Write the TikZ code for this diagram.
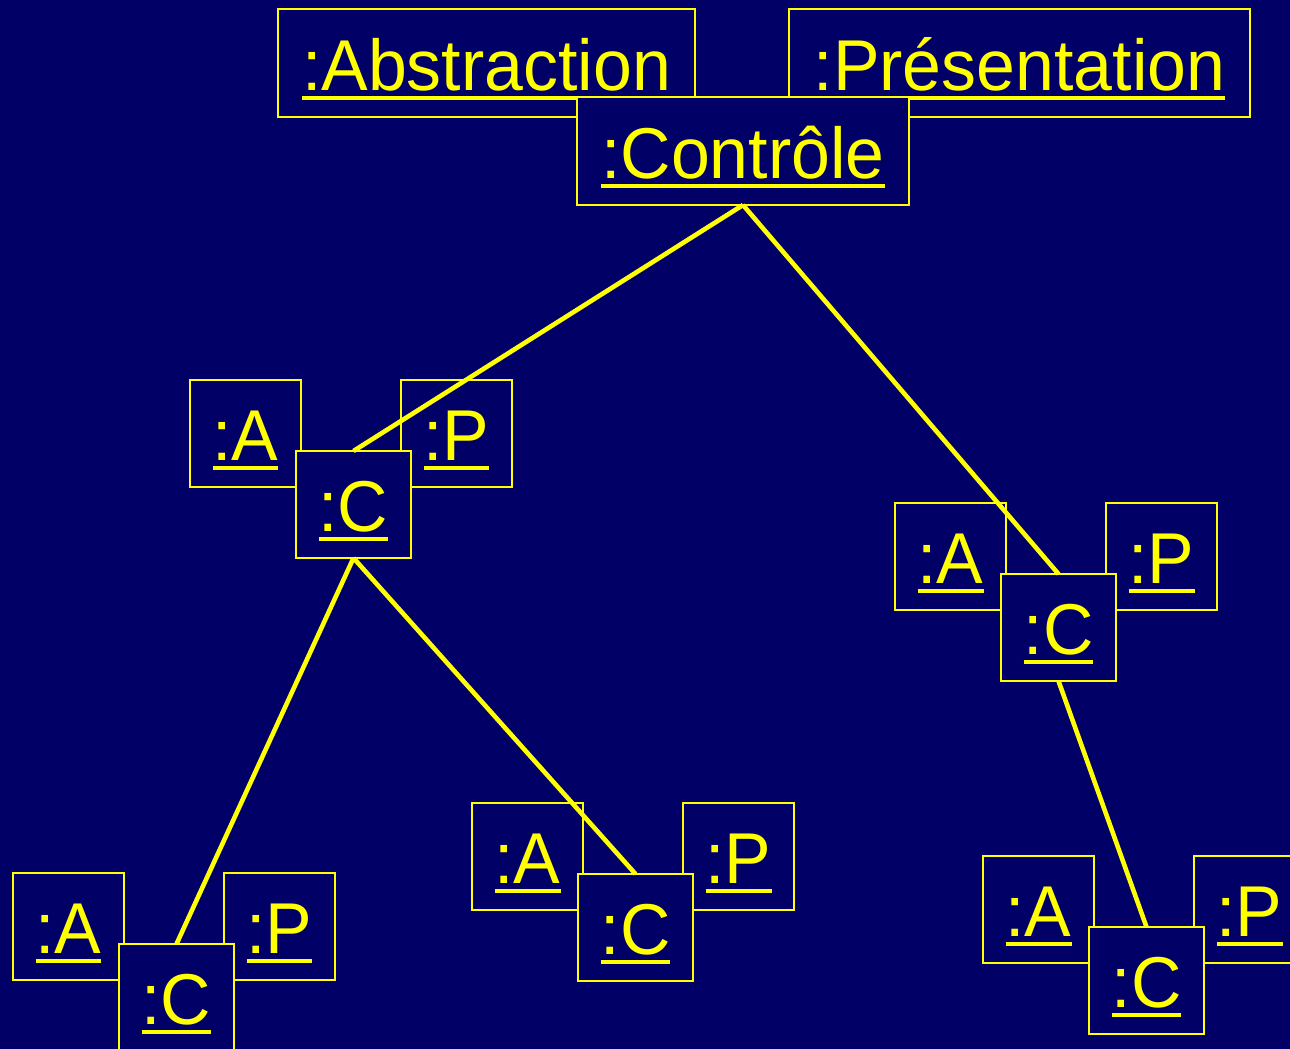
\documentclass[tikz,border=0pt]{standalone}
\usepackage{fontspec}
\setmainfont[FakeStretch=0.97]{Liberation Sans}
\definecolor{navy}{RGB}{0,0,102}
\definecolor{yel}{RGB}{255,255,0}
\newcommand\ulx[1]{\setbox0\hbox{#1}\rlap{\rule[-10pt]{\wd0}{4pt}}\box0}
\tikzset{
  obj/.style={draw=yel, fill=navy, line width=1.8pt, text=yel,
    font=\fontsize{72}{80}\selectfont, inner sep=0pt, outer sep=0pt,
    anchor=south west, text depth=27pt, text height=81pt, minimum width=#1pt},
  small/.style={obj=111, text height=80pt},
  smallc/.style={obj=115, text height=80pt},
  conn/.style={draw=yel, line width=4.6pt}
}
\newcommand\mvcgroup[3]{%
  \node[small] (a#1) at (#2,{#3+107}) {\ulx{:A}};
  \node[small] (p#1) at ({#2+211},{#3+107}) {\ulx{:P}};
  \node[smallc] (c#1) at ({#2+106},{#3+178}) {\ulx{:C}};
}
\begin{document}
\begin{tikzpicture}[x=1pt,y=-1pt]
\fill[navy] (0,0) rectangle (1290,1049);
\useasboundingbox (0,0) rectangle (1290,1049);
\node[obj=417] (abs) at (278,117) {\ulx{:Abstraction}};
\node[obj=461] (pres) at (789,117) {\ulx{:Présentation}};
\node[obj=332] (ctrl) at (577,205) {\ulx{:Contrôle}};
\mvcgroup{1}{190}{380}
\mvcgroup{2}{895}{503}
\mvcgroup{3}{13}{873}
\mvcgroup{4}{472}{803}
\mvcgroup{5}{983}{856}
\draw[conn] (ctrl.south) -- (c1.north);
\draw[conn] (ctrl.south) -- (c2.north);
\draw[conn] (c1.south) -- (c3.north);
\draw[conn] (c1.south) -- (c4.north);
\draw[conn] (c2.south) -- (c5.north);
\end{tikzpicture}
\end{document}
